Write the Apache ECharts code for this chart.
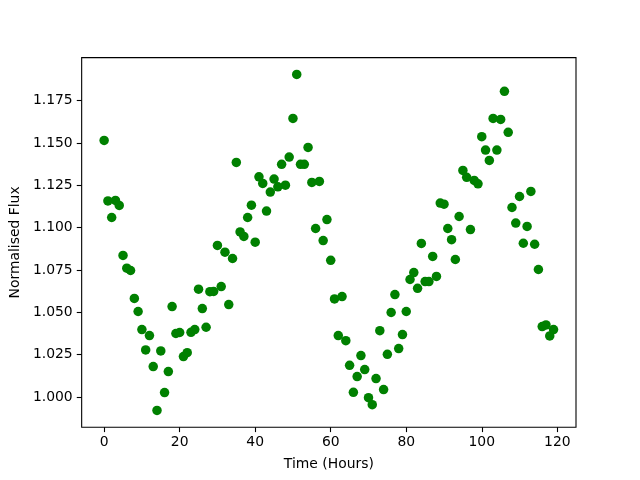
<!DOCTYPE html>
<html>
<head>
<meta charset="utf-8">
<script src="https://cdn.jsdelivr.net/npm/echarts@6/dist/echarts.min.js"></script>
<style>html,body{margin:0;padding:0;background:#fff}#c{width:640px;height:480px}</style>
</head>
<body>
<div id="c"></div>
<script>
const hours = [];
for (let i = 0; i < 120; i++) hours.push(i);
const flux = [
1.1515,1.1158,1.1060,1.1161,1.1131,1.0836,1.0761,1.0747,1.0582,1.0505,
1.0398,1.0278,1.0363,1.0180,0.9921,1.0272,1.0026,1.0150,1.0534,1.0375,
1.0381,1.0239,1.0262,1.0382,1.0398,1.0637,1.0522,1.0412,1.0622,1.0623,
1.0895,1.0652,1.0855,1.0546,1.0818,1.1385,1.0975,1.0948,1.1060,1.1133,
1.0914,1.1300,1.1261,1.1098,1.1210,1.1287,1.1241,1.1374,1.1251,1.1417,
1.1645,1.1905,1.1374,1.1374,1.1474,1.1267,1.0995,1.1273,1.0924,1.1048,
1.0807,1.0579,1.0363,1.0593,1.0333,1.0187,1.0028,1.0121,1.0245,1.0162,
0.9996,0.9955,1.0109,1.0392,1.0044,1.0252,1.0499,1.0605,1.0286,1.0369,
1.0505,1.0694,1.0735,1.0642,1.0907,1.0682,1.0682,1.0830,1.0712,1.1145,
1.1139,1.0995,1.0929,1.0812,1.1066,1.1338,1.1297,1.0989,1.1279,1.1259,
1.1537,1.1458,1.1397,1.1645,1.1458,1.1639,1.1805,1.1563,1.1119,1.1027,
1.1184,1.0908,1.1007,1.1214,1.0902,1.0753,1.0416,1.0426,1.0361,1.0398
];
const xTicks = [0,20,40,60,80,100,120];
const yTicks = [1.000,1.025,1.050,1.075,1.100,1.125,1.150,1.175];

const xMinD = Math.min(...hours), xMaxD = Math.max(...hours);
const yMinD = Math.min(...flux), yMaxD = Math.max(...flux);
const xPad = (xMaxD - xMinD) * 0.05, yPad = (yMaxD - yMinD) * 0.05;

const font = 'DejaVu Sans';
const chart = echarts.init(document.getElementById('c'), null, {renderer: 'canvas'});
chart.setOption({
  animation: false,
  backgroundColor: '#ffffff',
  grid: {left: 80, right: 64, top: 57.6, bottom: 52.8, show: true, borderColor: '#000', borderWidth: 1.1, backgroundColor: 'transparent'},
  xAxis: {
    type: 'value', min: xMinD - xPad, max: xMaxD + xPad, position: 'bottom',
    name: 'Time (Hours)', nameLocation: 'middle', nameGap: 30,
    nameTextStyle: {fontFamily: font, fontSize: 13.9, color: '#000'},
    axisLine: {show: false, onZero: false},
    axisTick: {show: true, customValues: xTicks, length: 4.9, lineStyle: {color: '#000', width: 1.1}},
    axisLabel: {show: true, customValues: xTicks, margin: 8, fontFamily: font, fontSize: 13.9, color: '#000'},
    splitLine: {show: false}
  },
  yAxis: {
    type: 'value', min: yMinD - yPad, max: yMaxD + yPad, position: 'left',
    name: 'Normalised Flux', nameLocation: 'middle', nameGap: 54,
    nameTextStyle: {fontFamily: font, fontSize: 13.9, color: '#000'},
    axisLine: {show: false, onZero: false},
    axisTick: {show: true, customValues: yTicks, length: 4.9, lineStyle: {color: '#000', width: 1.1}},
    axisLabel: {show: true, customValues: yTicks, margin: 9, fontFamily: font, fontSize: 13.9, color: '#000',
      formatter: v => v.toFixed(3)},
    splitLine: {show: false}
  },
  series: [{
    type: 'scatter',
    data: hours.map((h, i) => [h, flux[i]]),
    symbol: 'circle', symbolSize: 9.5,
    itemStyle: {color: '#008000', opacity: 1}
  }]
});
</script>
</body>
</html>
